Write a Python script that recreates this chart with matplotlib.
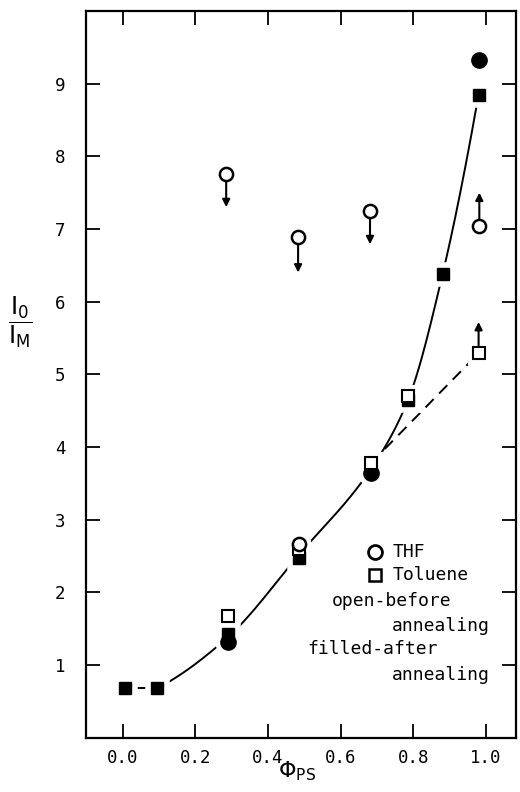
import numpy as np
import matplotlib
matplotlib.use("Agg")
import matplotlib.pyplot as plt

# THF, before annealing (open circles); first four carry limit arrows
thf_open_x = [0.285, 0.483, 0.681, 0.982, 0.486]
thf_open_y = [7.75, 6.89, 7.25, 7.04, 2.66]
thf_arrow_x = [0.285, 0.483, 0.681, 0.982]
thf_arrow_from = [7.75, 6.89, 7.25, 7.04]
thf_arrow_to = [7.30, 6.40, 6.79, 7.50]

# THF, after annealing (filled circles)
thf_filled_x = [0.289, 0.684, 0.980]
thf_filled_y = [1.32, 3.64, 9.33]

# Toluene, before annealing (open squares)
tol_open_x = [0.289, 0.486, 0.684, 0.786, 0.980]
tol_open_y = [1.68, 2.60, 3.78, 4.70, 5.29]
tol_arrow_x = [0.980]
tol_arrow_from = [5.29]
tol_arrow_to = [5.72]

# Toluene, after annealing (filled squares)
tol_filled_x = [0.006, 0.095, 0.289, 0.486, 0.786, 0.881, 0.980]
tol_filled_y = [0.68, 0.68, 1.43, 2.47, 4.65, 6.38, 8.85]

# hand-drawn guide through the annealed points
guide_x = [0.095, 0.289, 0.486, 0.684, 0.786, 0.881, 0.980]
guide_y = [0.68, 1.38, 2.52, 3.70, 4.65, 6.38, 8.85]
# dashed guide through the unannealed toluene points
dash_x = [0.684, 0.980]
dash_y = [3.78, 5.29]

x_ticks = [0.0, 0.2, 0.4, 0.6, 0.8, 1.0]
x_ticklabels = ["0.0", "0.2", "0.4", "0.6", "0.8", "1.0"]
y_ticks = [1, 2, 3, 4, 5, 6, 7, 8, 9]


def pchip(xk, yk, xs):
    """Monotone cubic (Fritsch-Carlson) through the knots."""
    xk = np.asarray(xk, float)
    yk = np.asarray(yk, float)
    h = np.diff(xk)
    d = np.diff(yk) / h
    m = np.zeros_like(yk)
    for k in range(1, len(xk) - 1):
        if d[k - 1] * d[k] > 0:
            w1 = 2 * h[k] + h[k - 1]
            w2 = h[k] + 2 * h[k - 1]
            m[k] = (w1 + w2) / (w1 / d[k - 1] + w2 / d[k])
    m[0] = max(0.0, ((2 * h[0] + h[1]) * d[0] - h[0] * d[1]) / (h[0] + h[1]))
    m[-1] = max(0.0, ((2 * h[-1] + h[-2]) * d[-1] - h[-1] * d[-2]) / (h[-1] + h[-2]))
    idx = np.clip(np.searchsorted(xk, xs) - 1, 0, len(h) - 1)
    t = (xs - xk[idx]) / h[idx]
    h00 = 2 * t**3 - 3 * t**2 + 1
    h10 = t**3 - 2 * t**2 + t
    h01 = -2 * t**3 + 3 * t**2
    h11 = t**3 - t**2
    return (h00 * yk[idx] + h10 * h[idx] * m[idx]
            + h01 * yk[idx + 1] + h11 * h[idx] * m[idx + 1])


plt.rcParams["font.family"] = "DejaVu Sans Mono"
plt.rcParams["mathtext.fontset"] = "dejavusans"

fig = plt.figure(figsize=(5.2, 7.92), dpi=100)
ax = fig.add_axes([0.1654, 0.0686, 0.8269, 0.9176])

# guide lines
ax.plot(tol_filled_x[:2], tol_filled_y[:2], color="black", lw=1.4, zorder=2)
xs = np.linspace(guide_x[0], guide_x[-1], 400)
ax.plot(xs, pchip(guide_x, guide_y, xs), color="black", lw=1.4, zorder=2)
ax.plot(dash_x, dash_y, color="black", lw=1.4, dashes=(6, 4), zorder=2)

# white halos so the lines stop short of the symbols
halo = dict(ls="none", mfc="white", mec="white", zorder=3)
ax.plot(tol_filled_x, tol_filled_y, marker="s", ms=9, mew=9, **halo)
ax.plot(thf_filled_x, thf_filled_y, marker="o", ms=11, mew=8, **halo)
ax.plot(tol_open_x, tol_open_y, marker="s", ms=8.5, mew=8, **halo)

ax.plot(thf_filled_x, thf_filled_y, ls="none", marker="o", ms=11,
        mfc="black", mec="black", zorder=4)
ax.plot(tol_filled_x, tol_filled_y, ls="none", marker="s", ms=8.6,
        mfc="black", mec="black", zorder=5)
ax.plot(tol_open_x, tol_open_y, ls="none", marker="s", ms=8, mfc="white",
        mec="black", mew=1.5, zorder=6)
ax.plot(thf_open_x, thf_open_y, ls="none", marker="o", ms=9.5, mfc="white",
        mec="black", mew=1.8, zorder=7)

# limit arrows
for xa, y0, y1 in zip(thf_arrow_x + tol_arrow_x, thf_arrow_from + tol_arrow_from,
                      thf_arrow_to + tol_arrow_to):
    ax.annotate("", xy=(xa, y1), xytext=(xa, y0),
                arrowprops=dict(arrowstyle="-|>", color="black", lw=1.5,
                                mutation_scale=11, shrinkA=4.5, shrinkB=0),
                zorder=6)

# key
ax.plot([0.672], [0.256], transform=ax.transAxes, marker="o", ms=10,
        mfc="white", mec="black", mew=2)
ax.plot([0.672], [0.224], transform=ax.transAxes, marker="s", ms=8,
        mfc="white", mec="black", mew=1.8)
key_lines = [
    (0.714, 0.256, "THF"),
    (0.714, 0.224, "Toluene"),
    (0.571, 0.188, "open-before"),
    (0.712, 0.154, "annealing"),
    (0.515, 0.122, "filled-after"),
    (0.712, 0.086, "annealing"),
]
for tx, ty, s in key_lines:
    ax.text(tx, ty, s, transform=ax.transAxes, ha="left", va="center",
            fontsize=13)

ax.set_xlim(-0.101, 1.083)
ax.set_ylim(0, 10)
ax.set_xticks(x_ticks)
ax.set_xticklabels(x_ticklabels)
ax.set_yticks(y_ticks)
ax.tick_params(direction="in", length=10, width=1.3, top=True, right=True,
               labelsize=12.5)
ax.tick_params(axis="y", pad=15)
ax.tick_params(axis="x", pad=8)
for sp in ax.spines.values():
    sp.set_linewidth(1.6)

ax.set_xlabel(r"$\Phi_{\mathrm{PS}}$", fontsize=16)
ax.xaxis.set_label_coords(0.49, -0.030)
ax.xaxis.label.set_va("top")
fig.text(20 / 520, 1 - 322 / 792, r"$\dfrac{\mathrm{I}_{\mathrm{0}}}{\mathrm{I}_{\mathrm{M}}}$",
         fontsize=17, ha="center", va="center")

fig.savefig("out.png", dpi=100)
